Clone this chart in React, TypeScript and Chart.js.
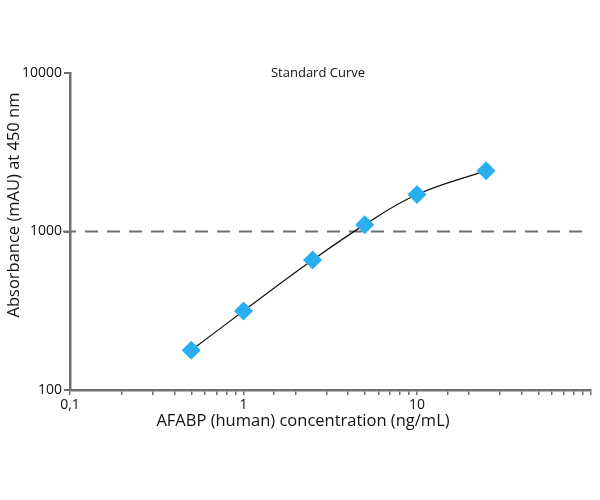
import React, { useRef, useEffect } from 'react';
import { Chart, registerables } from 'chart.js';

Chart.register(...registerables);

// standard curve data
const concentrations = [0.5, 1, 2.5, 5, 10, 25];
const absorbance = [178, 315, 660, 1105, 1710, 2420];
const cutoff = 1000;
const xTickLabels: Record<string, string> = { '0.1': '0,1', '1': '1', '10': '10' };
const yTickLabels = [100, 1000, 10000];

const FONT = "'Open Sans', sans-serif";
const AXIS_GREY = '#707070';

// dashed reference line, chart title and axis titles
const extras = {
  id: 'extras',
  beforeDatasetsDraw(chart: any) {
    const { ctx, chartArea, scales } = chart;
    const y = scales.y.getPixelForValue(cutoff);
    ctx.save();
    ctx.strokeStyle = AXIS_GREY;
    ctx.lineWidth = 2;
    ctx.setLineDash([13, 9]);
    ctx.beginPath();
    ctx.moveTo(chartArea.left - 7, y);
    ctx.lineTo(chartArea.right, y);
    ctx.stroke();
    ctx.restore();
  },
  afterDraw(chart: any) {
    const { ctx, chartArea } = chart;
    ctx.save();
    ctx.fillStyle = '#111';
    ctx.textAlign = 'center';
    ctx.textBaseline = 'middle';
    ctx.font = `13px ${FONT}`;
    ctx.fillText('Standard Curve', chart.width / 2 + 18, chartArea.top);
    ctx.font = `16.5px ${FONT}`;
    ctx.fillText('AFABP (human) concentration (ng/mL)', 303, chartArea.bottom + 31);
    ctx.translate(14, 205);
    ctx.rotate(-Math.PI / 2);
    ctx.fillText('Absorbance (mAU) at 450 nm', 0, 0);
    ctx.restore();
  },
};

const App = () => {
  const canvasRef = useRef<HTMLCanvasElement>(null);

  useEffect(() => {
    document.body.style.margin = '0';
    if (!canvasRef.current) return;
    const chart = new Chart(canvasRef.current, {
      type: 'line',
      data: {
        datasets: [
          {
            label: 'Standard',
            data: concentrations.map((c, i) => ({ x: c, y: absorbance[i] })),
            borderColor: '#111',
            borderWidth: 1.2,
            tension: 0.4,
            pointStyle: 'rectRot',
            pointRadius: 9.5,
            pointBackgroundColor: '#27aff0',
            pointBorderColor: '#27aff0',
            pointBorderWidth: 0,
          },
        ],
      },
      options: {
        animation: false,
        responsive: true,
        maintainAspectRatio: false,
        layout: { padding: { left: 2, top: 73, right: 4, bottom: 60 } },
        plugins: { legend: { display: false }, tooltip: { enabled: false } },
        scales: {
          x: {
            type: 'logarithmic',
            min: 0.1,
            max: 100,
            border: { color: AXIS_GREY, width: 2.5 },
            grid: { drawOnChartArea: false, color: AXIS_GREY, tickLength: 5, lineWidth: 1.5 },
            ticks: {
              autoSkip: false,
              maxRotation: 0,
              padding: 2,
              color: '#111',
              font: { family: FONT, size: 14 },
              callback: (v: any) => xTickLabels[String(v)] ?? '',
            },
            afterFit: (s: any) => { s.height = 50; },
          },
          y: {
            type: 'logarithmic',
            min: 100,
            max: 10000,
            border: { color: AXIS_GREY, width: 2.5 },
            grid: { drawOnChartArea: false, color: AXIS_GREY, tickLength: 6, lineWidth: 2 },
            ticks: {
              autoSkip: false,
              padding: 2,
              color: '#111',
              font: { family: FONT, size: 14 },
              callback: (v: any) => (yTickLabels.includes(Number(v)) ? String(v) : null),
            },
            afterFit: (s: any) => { s.width = 68; },
          },
        },
      },
      plugins: [extras],
    });
    return () => chart.destroy();
  }, []);

  return (
    <div style={{ position: 'relative', width: 600, height: 500 }}>
      <canvas ref={canvasRef} />
    </div>
  );
};

export default App;
